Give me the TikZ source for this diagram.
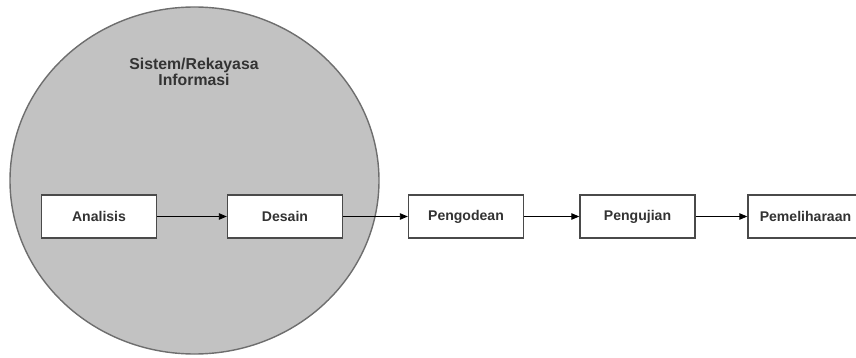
\documentclass[tikz,border=0pt]{standalone}
\usepackage{fontspec}
\setsansfont{Liberation Sans}
\usetikzlibrary{arrows.meta}
\definecolor{PhaseInk}{HTML}{333333}
\definecolor{PhaseEdge}{HTML}{4A4A4A}
\definecolor{ScopeFill}{HTML}{C2C2C2}
\definecolor{ScopeEdge}{HTML}{6E6E6E}
\tikzset{
  every node/.style={font=\sffamily\bfseries, text=PhaseInk},
  phase/.style={draw=PhaseEdge, line width=0.8pt, fill=white, minimum width=2.3cm,
    minimum height=0.86cm, inner sep=0pt, font=\sffamily\bfseries\fontsize{8}{9}\selectfont},
  flow/.style={-{Triangle[length=1.6mm,width=1.3mm]}, draw=black, line width=0.5pt},
}
\begin{document}
\begin{tikzpicture}[x=0.02cm, y=-0.02cm]
  \useasboundingbox (0,0) rectangle (856,358);
  % Scope of system / information engineering
  \draw[fill=ScopeFill, draw=ScopeEdge, line width=0.8pt] (194.5,180.5) ellipse [x radius=184.5, y radius=173.5];
  \node[align=center, font=\sffamily\bfseries\fontsize{9}{9.5}\selectfont] (scope) at (194,72)
    {Sistem/Rekayasa\\Informasi};
  % Phases
  \node[phase] (analisis) at (99,216.5) {Analisis};
  \node[phase] (desain) at (285,216.5) {Desain};
  \node[phase] (kode) at (466,216.5) {Pengodean};
  \node[phase] (uji) at (637.5,216.5) {Pengujian};
  \node[phase] (pelihara) at (805.5,216.5) {Pemeliharaan};
  % Flow between phases
  \foreach \a/\b in {analisis/desain, desain/kode, kode/uji, uji/pelihara} {
    \draw[flow] (\a) -- (\b);
  }
\end{tikzpicture}
\end{document}
